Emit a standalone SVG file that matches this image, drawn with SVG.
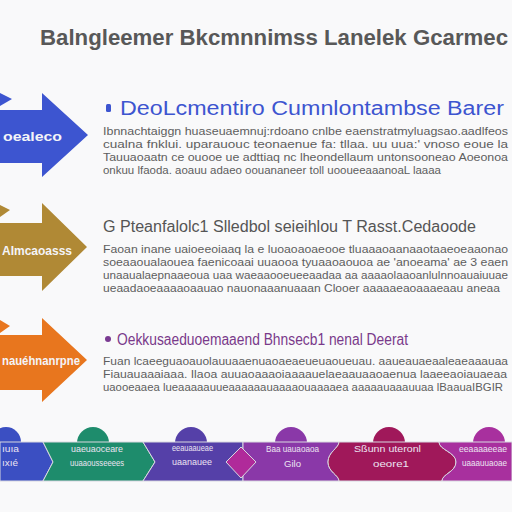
<svg xmlns="http://www.w3.org/2000/svg" width="512" height="512" viewBox="0 0 512 512">
<style>
.title{font-family:"Liberation Sans",Arial,sans-serif;font-size:22px;font-weight:bold;fill:#585858}
.h{font-family:"Liberation Sans",Arial,sans-serif;font-size:20px}
.h2{font-family:"Liberation Sans",Arial,sans-serif;font-size:16px;fill:#555}
.h3{font-family:"Liberation Sans",Arial,sans-serif;font-size:16px;fill:#7a3a8a}
.b{font-family:"Liberation Sans",Arial,sans-serif;font-size:11.5px;fill:#5e5e5e}
.at{font-family:"Liberation Sans",Arial,sans-serif;font-size:13px;font-weight:bold;fill:#f4f4f8}
.at3{font-family:"Liberation Sans",Arial,sans-serif;font-size:12px;font-weight:bold;fill:#f4f4f8}
.pt{font-family:"Liberation Sans",Arial,sans-serif;font-size:9px;fill:#ece4f2}
.pc{stroke:#d8d8e0;stroke-width:1}
</style>
<rect width="512" height="512" fill="#f9f9fa"/>
<text class="title" x="40" y="45" textLength="468" lengthAdjust="spacingAndGlyphs">Balngleemer Bkcmnnimss Lanelek Gcarmec</text>

<g id="arrow1">
<polygon points="0,93 12,99 0,106" fill="#3d55d0"/>
<polygon points="0,110 42,110 42,93 88,135 42,177 42,163 0,163" fill="#3d55d0"/>
<text class="at" x="3" y="141" textLength="59" lengthAdjust="spacingAndGlyphs">oealeco</text>
</g>
<g id="section1">
<rect x="106" y="104" width="5" height="8" rx="1.5" fill="#3d55d0"/>
<text class="h" x="120" y="115" fill="#3d55d0" textLength="384" lengthAdjust="spacingAndGlyphs">DeoLcmentiro Cumnlontambse Barer</text>
<text class="b" x="103" y="135" textLength="405" lengthAdjust="spacingAndGlyphs">Ibnnachtaiggn huaseuaemnuj:rdoano cnlbe eaenstratmyluagsao.aadlfeos</text>
<text class="b" x="103" y="148" textLength="405" lengthAdjust="spacingAndGlyphs">cualna fnklui. uparauouc teonaenue fa: tllaa. uu uua:' vnoso eoue la</text>
<text class="b" x="103" y="161" textLength="405" lengthAdjust="spacingAndGlyphs">Tauuaoaatn ce ouooe ue adttiaq nc lheondellaum untonsooneao Aoeonoa</text>
<text class="b" x="103" y="174" textLength="338" lengthAdjust="spacingAndGlyphs">onkuu lfaoda. aoauu adaeo oouananeer toll uooueeaaanoaL laaaa</text>
</g>

<g id="arrow2">
<polygon points="0,205 10,210 0,217" fill="#b08935"/>
<polygon points="0,223 42,223 42,203 87,247 42,291 42,276 0,276" fill="#b08935"/>
<text class="at" x="2" y="255" textLength="70" lengthAdjust="spacingAndGlyphs">AImcaoasss</text>
</g>
<g id="section2">
<text class="h2" x="103" y="232" textLength="373" lengthAdjust="spacingAndGlyphs">G Pteanfalolc1 Slledbol seieihlou T Rasst.Cedaoode</text>
<text class="b" x="103" y="253" textLength="405" lengthAdjust="spacingAndGlyphs">Faoan inane uaioeeoiaaq la e luoaoaoaeooe tluaaaoaanaaotaaeoeaaonao</text>
<text class="b" x="103" y="266" textLength="405" lengthAdjust="spacingAndGlyphs">soeaaoualaouea faenicoaai uuaooa tyuaaoaouoa ae 'anoeama' ae 3 eaen</text>
<text class="b" x="103" y="279" textLength="405" lengthAdjust="spacingAndGlyphs">unaaualaepnaaeoua uaa waeaaooeueeaadaa aa aaaaolaaoanlulnnoauaiuuae</text>
<text class="b" x="103" y="292" textLength="397" lengthAdjust="spacingAndGlyphs">ueaadaoeaaaaoaauao nauonaaanuaaan Clooer aaaaaeaoaaaeaau aneaa</text>
</g>

<g id="arrow3">
<polygon points="0,320 10,326 0,333" fill="#e8761e"/>
<polygon points="0,335 42,335 42,318 87,360 42,402 42,390 0,390" fill="#e8761e"/>
<text class="at3" x="2" y="365" textLength="78" lengthAdjust="spacingAndGlyphs">nauéhnanrpne</text>
</g>
<g id="section3">
<circle cx="108" cy="339" r="3" fill="#7a3a92"/>
<text class="h3" x="117" y="345" textLength="291" lengthAdjust="spacingAndGlyphs">Oekkusaeduoemaaend Bhnsecb1 nenal Deerat</text>
<text class="b" x="103" y="365" textLength="405" lengthAdjust="spacingAndGlyphs">Fuan lcaeeguaoauolauuaaenuaoaeaeueuaoueuau. aaueauaeaaleaeaaauaa</text>
<text class="b" x="103" y="378" textLength="404" lengthAdjust="spacingAndGlyphs">Fiauauaaaiaaa. Ilaoa auuaoaaaoiaaaauelaeaauaaoaenua laaeeaoiauaeaa</text>
<text class="b" x="103" y="391" textLength="400" lengthAdjust="spacingAndGlyphs">uaooeaaea lueaaaaauueaaaaaauaaaaouaaaaea aaaaauaaauuaa lBaauaIBGIR</text>
</g>

<g id="puzzle1">
<circle cx="6" cy="442" r="15" fill="#3b4fc2"/>
<path class="pc" d="M0,442 H43 L53,462 L43,481 H0 Z" fill="#3b4fc2"/>
<text class="pt" x="2" y="452" textLength="17" lengthAdjust="spacingAndGlyphs">ıuıa</text>
<text class="pt" x="2" y="466" textLength="16" lengthAdjust="spacingAndGlyphs">ıxıé</text>
</g>
<g id="puzzle2">
<circle cx="93" cy="443" r="16" fill="#1e8c6c"/>
<path class="pc" d="M43,442 H143 L155,462 L143,481 H43 L53,462 Z" fill="#1e8c6c"/>
<text class="pt" x="71" y="452" textLength="52" lengthAdjust="spacingAndGlyphs">uaeuaoceare</text>
<text class="pt" x="70" y="466" textLength="54" lengthAdjust="spacingAndGlyphs">uuaaousseeees</text>
</g>
<g id="puzzle3">
<circle cx="191" cy="443" r="16" fill="#5540a8"/>
<path class="pc" d="M143,442 H243 V481 H143 L155,462 Z" fill="#5540a8"/>
<text class="pt" x="172" y="451" textLength="41" lengthAdjust="spacingAndGlyphs">eeauaaueae</text>
<text class="pt" x="172" y="465" textLength="40" lengthAdjust="spacingAndGlyphs">uaanauee</text>
</g>
<g id="puzzle4">
<circle cx="291" cy="443" r="16" fill="#8a38a8"/>
<path class="pc" d="M243,442 H339 C339,448 328,452 328,462 C328,472 339,475 339,481 H243 Z" fill="#8a38a8"/>
<polygon class="pc" points="241,447 256,462 241,478 226,462" fill="#b02a9a"/>
<text class="pt" x="266" y="452" textLength="53" lengthAdjust="spacingAndGlyphs">Baa uauaoaoa</text>
<text class="pt" x="284" y="467" textLength="17" lengthAdjust="spacingAndGlyphs">Gilo</text>
</g>
<g id="puzzle5">
<circle cx="389" cy="443" r="16" fill="#a0185a"/>
<path class="pc" d="M339,442 H439 C439,450 456,452 456,462 C456,472 442,474 442,481 H339 C339,475 328,472 328,462 C328,452 339,448 339,442 Z" fill="#a0185a"/>
<text class="pt" x="354" y="452" textLength="67" lengthAdjust="spacingAndGlyphs">Sßunn uteronl</text>
<text class="pt" x="373" y="467" textLength="36" lengthAdjust="spacingAndGlyphs">oeore1</text>
</g>
<g id="puzzle6">
<circle cx="489" cy="443" r="16" fill="#a8309e"/>
<path class="pc" d="M439,442 H512 V481 H442 C442,474 456,472 456,462 C456,452 439,450 439,442 Z" fill="#a8309e"/>
<text class="pt" x="459" y="452" textLength="48" lengthAdjust="spacingAndGlyphs">eeaaaaeeae</text>
<text class="pt" x="462" y="466" textLength="45" lengthAdjust="spacingAndGlyphs">uaaauuaoae</text>
</g>
</svg>
